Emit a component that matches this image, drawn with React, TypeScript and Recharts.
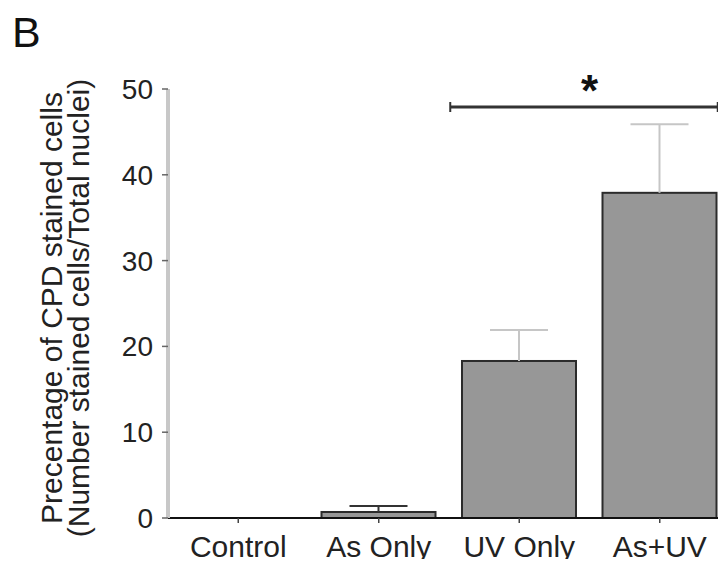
import React from 'react';
import { BarChart, Bar, XAxis, YAxis, ReferenceLine } from 'recharts';

const categories = ['Control', 'As Only', 'UV Only', 'As+UV'];
const meanValues = [0, 0.7, 18.3, 37.9];
const errorValues = [0, 0.7, 3.6, 8.0];
const yTicks = [0, 10, 20, 30, 40, 50];
const sigPair = ['UV Only', 'As+UV'];
const sigLevel = 47.9;
const sigMark = '*';

const FONT = "'Liberation Sans', Arial, Helvetica, sans-serif";
const BAR_FILL = '#979797';
const BAR_STROKE = '#2b2b2b';
// whisker colour per category (the dark one is only on "As Only")
const ERR_COLORS: Record<string, string> = { 'As Only': '#333333' };
const ERR_DEFAULT = '#c6c6c6';

const data = categories.map((name, i) => ({
  name,
  value: meanValues[i],
  err: errorValues[i],
}));

function BarWithError(props: any) {
  const { x, y, width, height, payload } = props;
  if (!payload || !(payload.value > 0)) return <g />;
  // pixels per data unit, taken from the bar the library has laid out
  const perUnit = height / payload.value;
  const top = y - payload.err * perUnit;
  const cx = x + width / 2;
  const color = ERR_COLORS[payload.name] ?? ERR_DEFAULT;
  return (
    <g>
      <rect x={x} y={y} width={width} height={height} fill={BAR_FILL} stroke={BAR_STROKE} strokeWidth={2} />
      <line x1={cx} y1={y} x2={cx} y2={top} stroke={color} strokeWidth={2} />
      <line x1={cx - 29} y1={top} x2={cx + 29} y2={top} stroke={color} strokeWidth={2} />
    </g>
  );
}

function Bracket(props: any) {
  const { x1, y1, x2 } = props;
  const left = x1 - 69;
  const right = x2 + 58;
  return (
    <g>
      <line x1={left} y1={y1} x2={right} y2={y1} stroke="#333" strokeWidth={3} />
      <line x1={left} y1={y1 - 5} x2={left} y2={y1 + 5} stroke="#333" strokeWidth={2} />
      <line x1={right} y1={y1 - 5} x2={right} y2={y1 + 5} stroke="#333" strokeWidth={2} />
      <text
        x={(x1 + x2) / 2}
        y={y1 - 1}
        textAnchor="middle"
        fontFamily={FONT}
        fontWeight="bold"
        fontSize={44}
        fill="#111"
      >
        {sigMark}
      </text>
    </g>
  );
}

export default function App() {
  return (
    <div style={{ width: 718, height: 551 }}>
      <div style={{ position: 'relative', width: 718, height: 559, overflow: 'hidden', fontFamily: FONT }}>
        <BarChart
          width={722}
          height={559}
          data={data}
          margin={{ top: 81, right: 0, bottom: 0, left: 0 }}
        >
          <XAxis
            dataKey="name"
            height={49}
            axisLine={{ stroke: '#111', strokeWidth: 2 }}
            tickLine={{ stroke: '#444', strokeWidth: 1.5 }}
            tickSize={5}
            tickMargin={13}
            tick={{ fontSize: 30, fill: '#222', fontFamily: FONT }}
            interval={0}
          />
          <YAxis
            width={160}
            domain={[0, 50]}
            ticks={yTicks}
            axisLine={{ stroke: '#c8c8c8', strokeWidth: 4 }}
            tickLine={{ stroke: '#666', strokeWidth: 1.5 }}
            tickSize={6}
            tickMargin={9}
            tick={{ fontSize: 28, fill: '#222', fontFamily: FONT }}
          />
          <Bar dataKey="value" barSize={114} shape={BarWithError} isAnimationActive={false} />
          <ReferenceLine
            segment={[
              { x: sigPair[0], y: sigLevel },
              { x: sigPair[1], y: sigLevel },
            ]}
            ifOverflow="visible"
            shape={(p: any) => <Bracket {...p} />}
          />
        </BarChart>
        <svg
          width={718}
          height={559}
          style={{ position: 'absolute', left: 0, top: 0, pointerEvents: 'none' }}
        >
          <text x={4} y={39} fontFamily={FONT} fontSize={43} fill="#111">
            B
          </text>
          <g fontFamily={FONT} fontSize={30} fill="#222" textAnchor="middle">
            <text transform="translate(54, 300) rotate(-90)">Precentage of CPD stained cells</text>
            <text transform="translate(81, 300) rotate(-90)">(Number stained cells/Total nuclei)</text>
          </g>
        </svg>
      </div>
    </div>
  );
}
